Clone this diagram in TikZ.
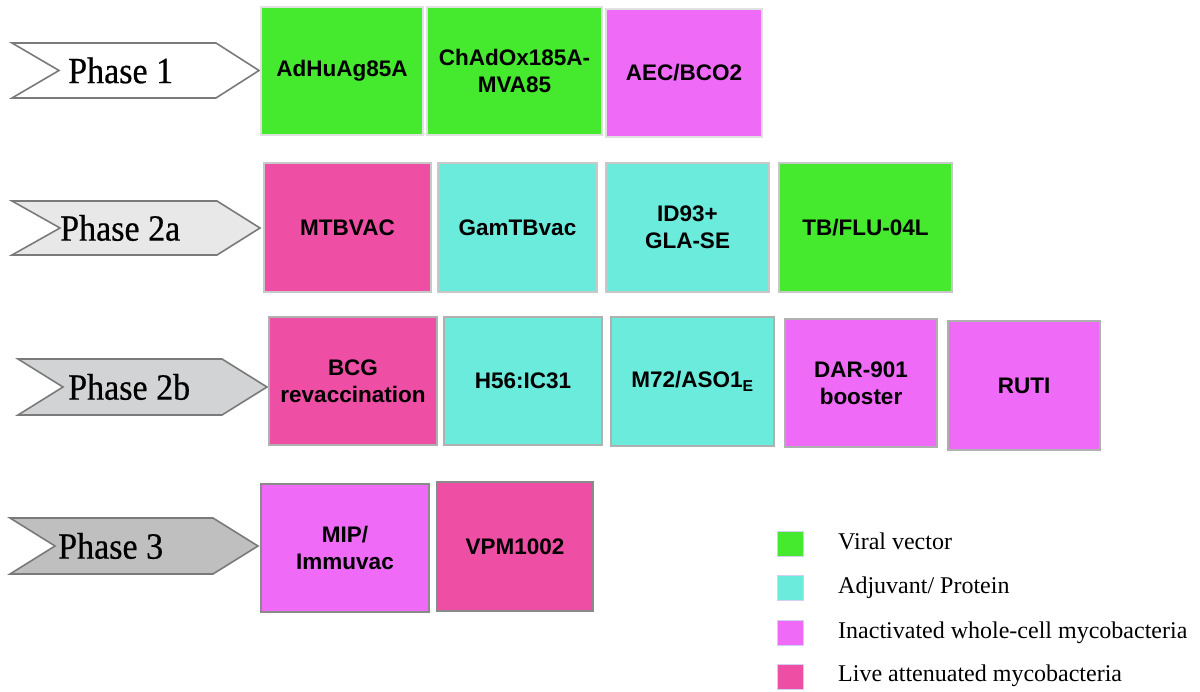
\documentclass[tikz,border=0pt]{standalone}
\usepackage{fontspec}
\setmainfont{Liberation Serif}
\setsansfont{Liberation Sans}
\newfontfamily\phasefont[FakeBold=0.5, FakeStretch=0.92]{Liberation Serif}
\definecolor{vgreen}{HTML}{45E92E}
\definecolor{acyan}{HTML}{6BEBDC}
\definecolor{imag}{HTML}{EE6AF7}
\definecolor{lpink}{HTML}{EE4FA4}
\definecolor{arrowline}{HTML}{7A7A7A}
\definecolor{ph1}{HTML}{FFFFFF}
\definecolor{ph2a}{HTML}{E8E8E8}
\definecolor{ph2b}{HTML}{D1D3D5}
\definecolor{ph3}{HTML}{BFBFBF}
\definecolor{bd1}{HTML}{E0E0E0}
\definecolor{bd2}{HTML}{C8C8C8}
\definecolor{bd3}{HTML}{B0B0B0}
\definecolor{bd4}{HTML}{8A8A8A}
\definecolor{lgbd}{HTML}{D0D0F0}
\begin{document}
\begin{tikzpicture}[x=1pt,y=-1pt,
  phasearrow/.style={draw=arrowline, line width=1.6pt, line join=miter},
  phasetext/.style={anchor=west, inner sep=0pt, font=\phasefont\fontsize{37}{42}\selectfont},
  vbox/.style={draw, line width=1.8pt, inner sep=0pt, align=center,
    font=\sffamily\bfseries\fontsize{22.5}{27}\selectfont, text=black},
  viral/.style={fill=vgreen},
  adjuv/.style={fill=acyan},
  inact/.style={fill=imag},
  live/.style={fill=lpink},
  lgsq/.style={draw=lgbd, line width=0.6pt, minimum width=26pt, minimum height=25pt, inner sep=0pt},
  lgtext/.style={anchor=west, inner sep=0pt, font=\fontsize{24}{28}\selectfont}
]
\useasboundingbox (0,0) rectangle (1200,692);

% Phase arrows
\draw[phasearrow, fill=ph1] (12,43) -- (216,43) -- (259,70.5) -- (216,98) -- (12,98) -- (59,70.5) -- cycle;
\node[phasetext] (p1) at (68,70.5) {Phase 1};
\draw[phasearrow, fill=ph2a] (12,201) -- (217,201) -- (260,228) -- (217,255) -- (12,255) -- (60,228) -- cycle;
\node[phasetext] (p2a) at (60,228) {Phase 2a};
\draw[phasearrow, fill=ph2b] (18,359) -- (222,359) -- (267,387) -- (222,415) -- (18,415) -- (63,387) -- cycle;
\node[phasetext] (p2b) at (68,387) {Phase 2b};
\draw[phasearrow, fill=ph3] (10,518) -- (213,518) -- (258,546) -- (213,574) -- (10,574) -- (55,546) -- cycle;
\node[phasetext] (p3) at (58,546) {Phase 3};

% Row 1
\node[vbox, viral, draw=bd1, minimum width=162pt, minimum height=128pt] (a1) at (342,71) {AdHuAg85A};
\node[vbox, viral, draw=bd1, minimum width=175pt, minimum height=128pt] (a2) at (514.5,71) {ChAdOx185A-\\MVA85};
\node[vbox, inact, draw=bd1, minimum width=156pt, minimum height=128pt] (a3) at (684,73) {AEC/BCO2};

% Row 2
\node[vbox, live, draw=bd2, minimum width=167pt, minimum height=129pt] (b1) at (347.5,227.5) {MTBVAC};
\node[vbox, adjuv, draw=bd2, minimum width=159pt, minimum height=129pt] (b2) at (517.5,227.5) {GamTBvac};
\node[vbox, adjuv, draw=bd2, minimum width=163pt, minimum height=129pt] (b3) at (687.5,227.5) {ID93+\\GLA-SE};
\node[vbox, viral, draw=bd2, minimum width=173pt, minimum height=129pt] (b4) at (865.5,227.5) {TB/FLU-04L};

% Row 3
\node[vbox, live, draw=bd3, minimum width=168pt, minimum height=128pt] (c1) at (353,381) {BCG\\revaccination};
\node[vbox, adjuv, draw=bd3, minimum width=158pt, minimum height=128pt] (c2) at (523,381) {H56:IC31};
\node[vbox, adjuv, draw=bd3, minimum width=163pt, minimum height=129pt] (c3) at (692.5,381.5) {M72/ASO1\textsubscript{E}};
\node[vbox, inact, draw=bd3, minimum width=152pt, minimum height=128pt] (c4) at (861,383) {DAR-901\\booster};
\node[vbox, inact, draw=bd3, minimum width=152pt, minimum height=129pt] (c5) at (1024,385.5) {RUTI};

% Row 4
\node[vbox, inact, draw=bd4, minimum width=168pt, minimum height=128pt] (d1) at (345,548) {MIP/\\Immuvac};
\node[vbox, live, draw=bd4, minimum width=156pt, minimum height=129pt] (d2) at (515,546.5) {VPM1002};

% Legend
\node[lgsq, fill=vgreen] (l1) at (790,543.5) {};
\node[lgtext] (t1) at (838,541) {Viral vector};
\node[lgsq, fill=acyan] (l2) at (790,588) {};
\node[lgtext] (t2) at (838,588) {Adjuvant/ Protein};
\node[lgsq, fill=imag] (l3) at (790,632.5) {};
\node[lgtext] (t3) at (838,632.5) {Inactivated whole-cell mycobacteria};
\node[lgsq, fill=lpink] (l4) at (790,677) {};
\node[lgtext] (t4) at (838,676) {Live attenuated mycobacteria};
\end{tikzpicture}
\end{document}
